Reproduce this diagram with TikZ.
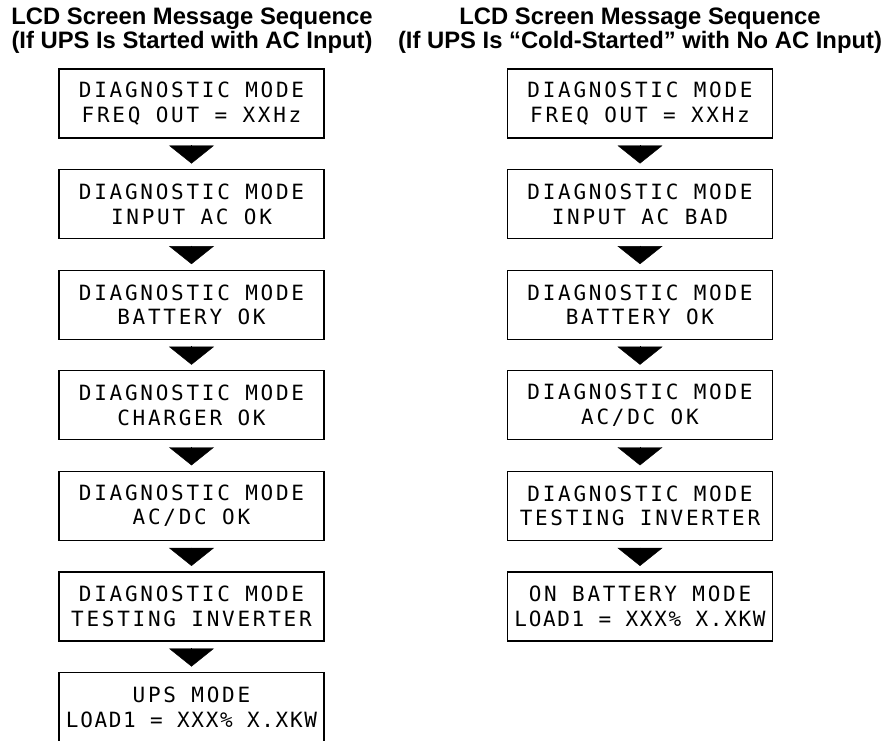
\documentclass[tikz,border=0pt]{standalone}
\usepackage{fontspec}
\usepackage{tikz}
\usetikzlibrary{arrows.meta}
\newfontfamily\lcdfont[LetterSpace=13]{DejaVu Sans Mono}
\newfontfamily\lcdtight[LetterSpace=8]{DejaVu Sans Mono}
\newfontfamily\headfont{Liberation Sans}

\tikzset{
  lcd/.style={draw, line width=1.2pt, minimum width=265pt, minimum height=69pt,
    inner sep=2pt, align=center, font=\lcdfont\fontsize{21}{24.5}\selectfont},
  head/.style={anchor=north, align=center, inner sep=0pt,
    font=\headfont\bfseries\fontsize{23.8}{24}\selectfont},
  seqarrow/.style={-{Triangle[length=18pt,width=45pt]}, line width=0.4pt,
    shorten <=6.5pt, shorten >=5.5pt}
}

\begin{document}
\begin{tikzpicture}[x=1pt, y=-1pt]
        \useasboundingbox (0,0) rectangle (888,740);
        % titles
        \node[head] (tl) at (192,8) {LCD Screen Message Sequence\\%
          (If UPS Is Started with AC Input)};
        \node[head] (tr) at (640,8) {LCD Screen Message Sequence\\%
          (If UPS Is “Cold-Started” with No AC Input)};
        % started with AC input
        \node[lcd] (l1) at (191.5,103.5) {DIAGNOSTIC MODE\\FREQ OUT = XXHz};
        \node[lcd] (l2) at (191.5,204.1) {DIAGNOSTIC MODE\\INPUT AC OK};
        \node[lcd] (l3) at (191.5,304.7) {DIAGNOSTIC MODE\\BATTERY OK};
        \node[lcd] (l4) at (191.5,405.3) {DIAGNOSTIC MODE\\CHARGER OK};
        \node[lcd] (l5) at (191.5,505.9) {DIAGNOSTIC MODE\\AC/DC OK};
        \node[lcd] (l6) at (191.5,606.5) {DIAGNOSTIC MODE\\TESTING INVERTER};
        \node[lcd] (l7) at (191.5,707.1) {UPS MODE\\{\lcdtight LOAD1 = XXX\% X.XKW}};
        \draw[seqarrow] (l1) -- (l2);
        \draw[seqarrow] (l2) -- (l3);
        \draw[seqarrow] (l3) -- (l4);
        \draw[seqarrow] (l4) -- (l5);
        \draw[seqarrow] (l5) -- (l6);
        \draw[seqarrow] (l6) -- (l7);
        % cold-started, no AC input
        \node[lcd] (r1) at (640,103.5) {DIAGNOSTIC MODE\\FREQ OUT = XXHz};
        \node[lcd] (r2) at (640,204.1) {DIAGNOSTIC MODE\\INPUT AC BAD};
        \node[lcd] (r3) at (640,304.7) {DIAGNOSTIC MODE\\BATTERY OK};
        \node[lcd] (r4) at (640,405.3) {DIAGNOSTIC MODE\\AC/DC OK};
        \node[lcd] (r5) at (640,505.9) {DIAGNOSTIC MODE\\TESTING INVERTER};
        \node[lcd] (r6) at (640,606.5) {ON BATTERY MODE\\{\lcdtight LOAD1 = XXX\% X.XKW}};
        \draw[seqarrow] (r1) -- (r2);
        \draw[seqarrow] (r2) -- (r3);
        \draw[seqarrow] (r3) -- (r4);
        \draw[seqarrow] (r4) -- (r5);
        \draw[seqarrow] (r5) -- (r6);
      \end{tikzpicture}
\end{document}
